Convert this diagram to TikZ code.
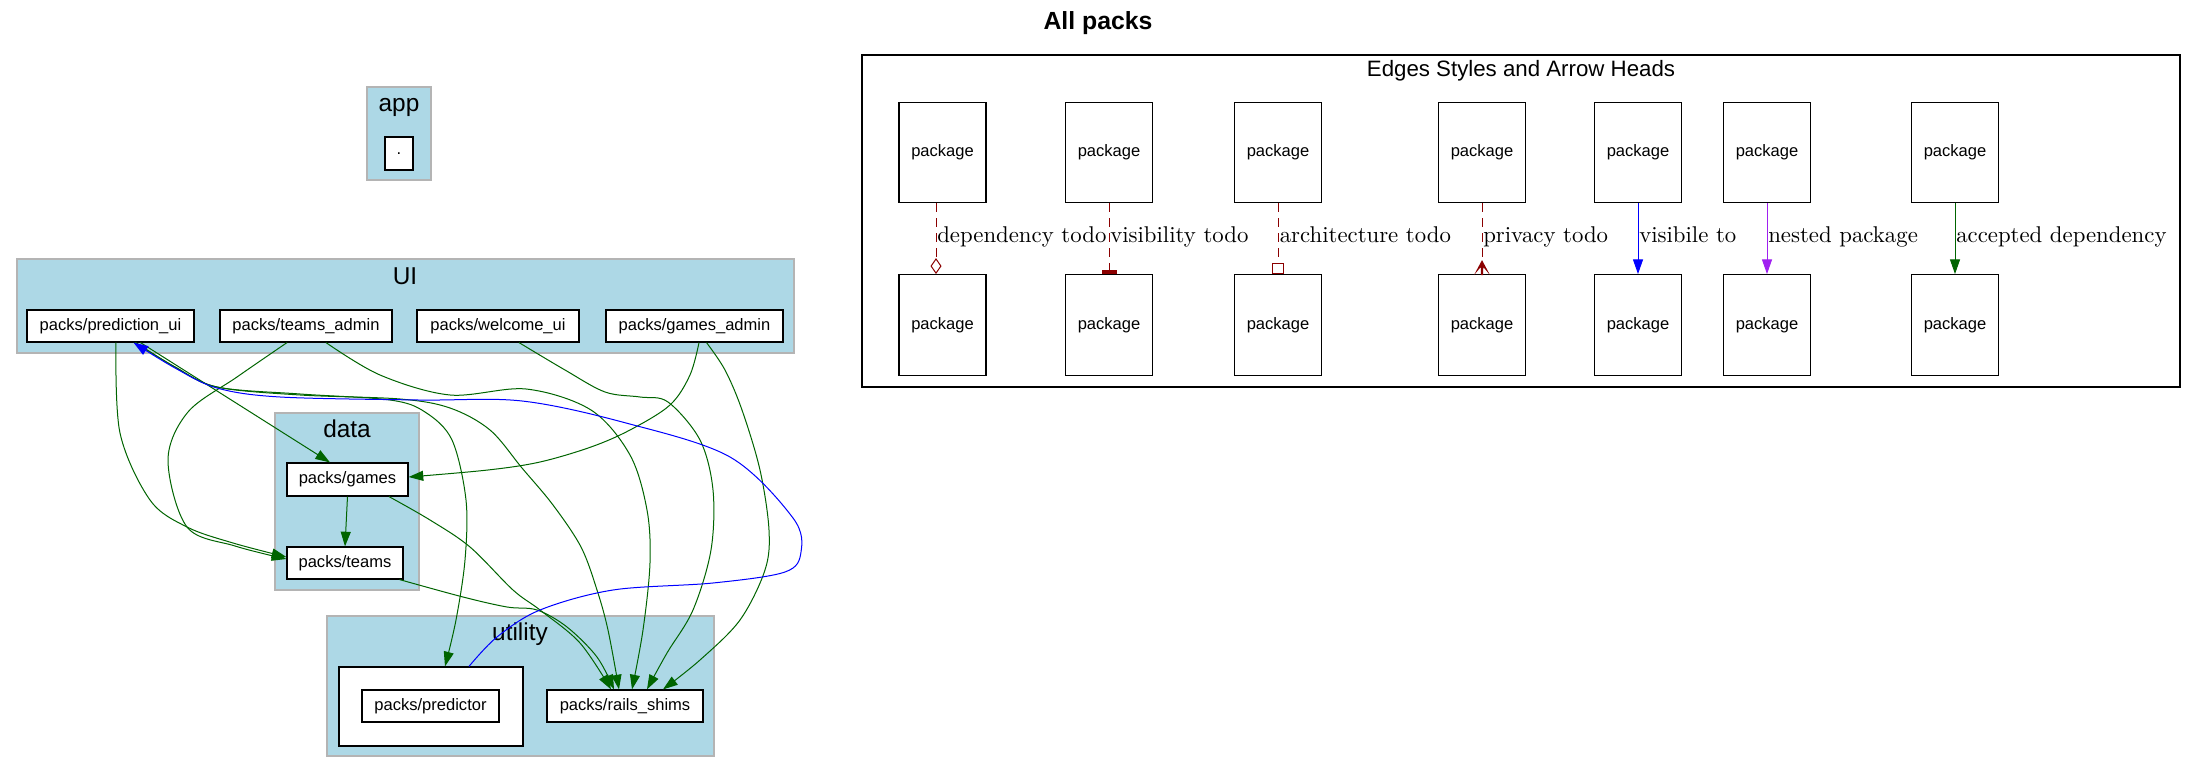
\documentclass[tikz,border=0pt]{standalone}
\usepackage{fontspec}
\newfontfamily\arial{Liberation Sans}
\newfontfamily\lmten[Extension=.otf]{lmroman10-regular}
\usetikzlibrary{arrows.meta,calc}
\definecolor{clblue}{HTML}{ADD8E6}
\definecolor{clgray}{HTML}{B4B4B4}
\definecolor{dgreen}{HTML}{006400}
\definecolor{dred}{HTML}{8B0000}
\definecolor{npurple}{HTML}{A020F0}
\tikzset{
  pkg/.style={draw=black, fill=white, line width=0.9pt, inner sep=0pt, font=\arial\fontsize{12.4}{14}\selectfont},
  cluster/.style={draw=clgray, fill=clblue, line width=1pt, inner sep=0pt},
  clabel/.style={font=\arial\fontsize{18.3}{20}\selectfont, anchor=base, inner sep=0pt},
  arrowtip/.style={-{Triangle[length=11pt,width=7.5pt]}},
  greenedge/.style={draw=dgreen, line width=0.75pt, arrowtip},
  blueedge/.style={draw=blue, line width=0.75pt, arrowtip},
  purpleedge/.style={draw=npurple, line width=0.75pt, arrowtip},
  todoedge/.style={draw=dred, line width=0.75pt, dash pattern=on 6.75pt off 4.5pt},
  elabel/.style={font=\lmten\fontsize{17.1}{19}\selectfont, anchor=base west, inner sep=0pt},
  curve/.style={smooth, tension=0.55},
  rowh/.style={minimum height=24pt},
  legbox/.style={pkg, minimum width=65.25pt, minimum height=75.5pt}
}
\begin{document}
\begin{tikzpicture}[x=0.75pt,y=-0.75pt]
\useasboundingbox (0,0) rectangle (2196,773);
\fill[white] (0,0) rectangle (2196,773);

% title
\node[font=\arial\bfseries\fontsize{18.6}{20}\selectfont, anchor=base, inner sep=0pt] (title) at (1098,30) {All packs};

% clusters
\node[cluster, minimum width=48pt, minimum height=69.75pt] (app) at (399,133.5) {};
\node[clabel] (applab) at (399,112) {app};
\node[pkg, minimum width=21pt, minimum height=24.75pt] (dot) at (399,153.5) {.};

\node[cluster, minimum width=582.75pt, minimum height=70.5pt] (ui) at (405.5,306) {};
\node[clabel] (uilab) at (405,285) {UI};
\node[cluster, minimum width=108pt, minimum height=132.75pt] (data) at (347,501.5) {};
\node[clabel] (datalab) at (347,438) {data};
\node[cluster, minimum width=290.25pt, minimum height=105pt] (utility) at (520.5,686) {};
\node[clabel] (utillab) at (520,640) {utility};
\node[draw=black, fill=white, line width=0.9pt, inner sep=0pt, minimum width=138pt, minimum height=59.25pt] (predc) at (431,706.5) {};

% package nodes
\node[pkg, rowh, minimum width=125.25pt] (pui) at (110.5,326) {packs/prediction\_ui};
\node[pkg, rowh, minimum width=129pt] (tadm) at (306,326) {packs/teams\_admin};
\node[pkg, rowh, minimum width=121.5pt] (wui) at (498,326) {packs/welcome\_ui};
\node[pkg, rowh, minimum width=132.75pt] (gadm) at (694.5,326) {packs/games\_admin};
\node[pkg, minimum width=90.75pt, minimum height=24.75pt] (games) at (347.5,479.5) {packs/games};
\node[pkg, rowh, minimum width=87pt] (teams) at (345,563) {packs/teams};
\node[pkg, rowh, minimum width=102.75pt] (pred) at (430.5,706) {packs/predictor};
\node[pkg, rowh, minimum width=117pt] (rails) at (625,706) {packs/rails\_shims};

% edges
\draw[greenedge] (games.south) -- (teams.north);
\draw[greenedge] ($(pui.south)+(30,0)$) -- ($(games.north)+(-17.5,0)$);
\draw[greenedge] plot[curve] coordinates {($(pui.south)+(5.5,0)$) (120,433) (150,500) (187,527) (233,543) ($(teams.west)+(0,-6)$)};
\draw[greenedge] plot[curve] coordinates {($(tadm.south)+(-19,0)$) (237,377) (188,412) (168,460) (187,527) (235,546) ($(teams.west)+(0,-4)$)};
\draw[greenedge] plot[curve] coordinates {($(pui.south)+(25,0)$) (175,367) (217,387) (300,394) (390,400) (425,412) (452,440) (466,500) (465,560) (456,620) ($(predc.north)+(14,0)$)};
\draw[greenedge] plot[curve] coordinates {($(pui.south)+(25,0)$) (175,367) (217,387) (300,395) (400,399) (450,408) (490,430) (522,468) (553,505) (581,547) (597,590) (608,630) ($(rails.north)+(-6,0)$)};
\draw[greenedge] plot[curve] coordinates {($(tadm.south)+(20,0)$) (380,375) (450,395) (526,389) (591,410) (630,455) (647,510) (650,563) (643,630) ($(rails.north)+(7,0)$)};
\draw[greenedge] plot[curve] coordinates {($(wui.south)+(21,0)$) (565,370) (605,392) (640,397) (668,402) (700,440) (713,490) (711,550) (693,610) (667,653) ($(rails.north)+(22,0)$)};
\draw[greenedge] plot[curve] coordinates {($(gadm.south)+(12,0)$) (725,370) (742,410) (760,470) (769,530) (765,570) (740,620) (700,660) ($(rails.north)+(38,0)$)};
\draw[greenedge] plot[curve] coordinates {($(gadm.south)+(4.5,0)$) (690,375) (670,405) (630,430) (591,447) (540,462) (488,470) ($(games.east)+(0,-2.5)$)};
\draw[greenedge] plot[curve] coordinates {($(games.south)+(41.5,0)$) (430,520) (470,547) (513,590) (540,610) (580,643) ($(rails.north)+(-14,0)$)};
\draw[greenedge] plot[curve] coordinates {($(teams.south east)+(-4,0)$) (463,597) (507,607) (537,610) (567,627) (597,657) ($(rails.north)+(-11,0)$)};
\draw[blueedge] plot[curve] coordinates {($(predc.north)+(38,0)$) (497,637) (540,610) (613,590) (713,583) (785,572) (801,552) (793,518) (730,457) (626,423) (522,401) (418,400) (280,397) (217,388) (175,368) ($(pui.south)+(23,0)$)};

% legend
\node[draw=black, fill=white, line width=0.9pt, inner sep=0pt, minimum width=988.5pt, minimum height=249pt] (legend) at (1521,221) {};
\node[font=\arial\fontsize{16.7}{18}\selectfont, anchor=base, inner sep=0pt] (legtitle) at (1521,77) {Edges Styles and Arrow Heads};
\foreach \i/\x in {1/942.5, 2/1109, 3/1278, 4/1482, 5/1638, 6/1767, 7/1955} {
  \node[legbox] (t\i) at (\x,152.5) {package};
  \node[legbox] (b\i) at (\x,325) {package};
}
\draw[todoedge, -{Kite[open, length=12pt, width=8.25pt, inset=6pt]}] ($(t1.south)+(-6.5,0)$) -- ($(b1.north)+(-6.5,0)$);
\draw[todoedge, -{Rectangle[length=3pt, width=11.25pt]}] (t2.south) -- (b2.north);
\draw[todoedge, -{Rectangle[open, length=8.25pt, width=9pt]}] (t3.south) -- (b3.north);
\draw[todoedge] (t4.south) -- ($(b4.north)+(0,-14)$);
\fill[dred, shift={(b4.north)}] (0,-14) -- (8,1) -- (1.3,-7) -- (1,1) -- (-1,1) -- (-1.3,-7) -- (-8,1) -- cycle;
\draw[blueedge] (t5.south) -- (b5.north);
\draw[purpleedge] (t6.south) -- (b6.north);
\draw[greenedge] (t7.south) -- (b7.north);

\node[elabel] (l1) at (937,243) {dependency todo};
\node[elabel] (l2) at (1110,243) {visibility todo};
\node[elabel] (l3) at (1279.5,243) {architecture todo};
\node[elabel] (l4) at (1483,243) {privacy todo};
\node[elabel] (l5) at (1639,243) {visibile to};
\node[elabel] (l6) at (1768,243) {nested package};
\node[elabel] (l7) at (1956,243) {accepted dependency};
\end{tikzpicture}
\end{document}
